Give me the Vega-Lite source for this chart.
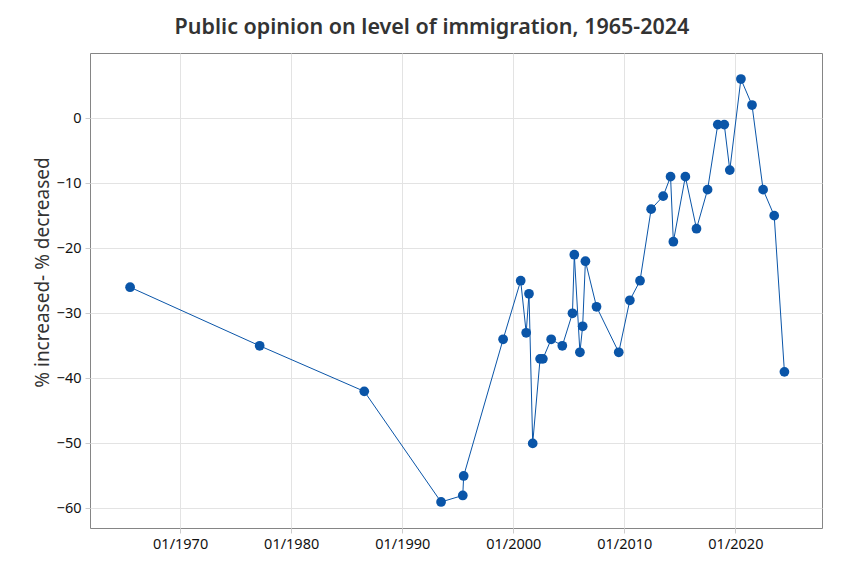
{
  "$schema": "https://vega.github.io/schema/vega-lite/v6.json",
  "width": 732,
  "height": 475,
  "autosize": "none",
  "padding": {"left": 90, "top": 53, "right": 42, "bottom": 48},
  "background": "white",
  "title": {
    "text": "Public opinion on level of immigration, 1965-2024",
    "font": "Noto Sans",
    "fontSize": 21.5,
    "fontWeight": 600,
    "color": "#333333",
    "anchor": "middle",
    "dx": -24,
    "offset": 15
  },
  "config": {
    "view": {"stroke": "#858585", "strokeWidth": 1},
    "axis": {
      "gridColor": "#e3e3e3",
      "gridWidth": 1,
      "domain": false,
      "labelFont": "Noto Sans",
      "labelFontSize": 14.5,
      "labelColor": "#111111",
      "titleFont": "Noto Sans",
      "titleFontWeight": "normal",
      "titleColor": "#333333",
      "tickColor": "#cccccc",
      "tickSize": 5
    }
  },
  "data": {
    "values": [
      {"date": "1965-07-01", "net": -26},
      {"date": "1977-03-01", "net": -35},
      {"date": "1986-08-01", "net": -42},
      {"date": "1993-07-01", "net": -59},
      {"date": "1995-06-15", "net": -58},
      {"date": "1995-07-15", "net": -55},
      {"date": "1999-02-01", "net": -34},
      {"date": "2000-09-01", "net": -25},
      {"date": "2001-03-01", "net": -33},
      {"date": "2001-06-01", "net": -27},
      {"date": "2001-10-01", "net": -50},
      {"date": "2002-06-01", "net": -37},
      {"date": "2002-09-01", "net": -37},
      {"date": "2003-06-01", "net": -34},
      {"date": "2004-06-01", "net": -35},
      {"date": "2005-05-01", "net": -30},
      {"date": "2005-07-01", "net": -21},
      {"date": "2006-01-01", "net": -36},
      {"date": "2006-04-01", "net": -32},
      {"date": "2006-07-01", "net": -22},
      {"date": "2007-07-01", "net": -29},
      {"date": "2009-07-01", "net": -36},
      {"date": "2010-07-01", "net": -28},
      {"date": "2011-06-01", "net": -25},
      {"date": "2012-06-01", "net": -14},
      {"date": "2013-07-01", "net": -12},
      {"date": "2014-03-01", "net": -9},
      {"date": "2014-06-01", "net": -19},
      {"date": "2015-07-01", "net": -9},
      {"date": "2016-07-01", "net": -17},
      {"date": "2017-07-01", "net": -11},
      {"date": "2018-06-01", "net": -1},
      {"date": "2019-01-01", "net": -1},
      {"date": "2019-07-01", "net": -8},
      {"date": "2020-07-01", "net": 6},
      {"date": "2021-07-01", "net": 2},
      {"date": "2022-07-01", "net": -11},
      {"date": "2023-07-01", "net": -15},
      {"date": "2024-06-01", "net": -39}
    ]
  },
  "encoding": {
    "x": {
      "field": "date",
      "type": "temporal",
      "scale": {"domain": ["1961-11-20", "2027-10-20"]},
      "axis": {
        "title": null,
        "format": "%m/%Y",
        "values": ["1970-01-01", "1980-01-01", "1990-01-01", "2000-01-01", "2010-01-01", "2020-01-01"],
        "labelPadding": 4
      }
    },
    "y": {
      "field": "net",
      "type": "quantitative",
      "scale": {"domain": [-63, 10], "nice": false, "zero": false},
      "axis": {
        "title": "% increased- % decreased",
        "titleFontSize": 19,
        "values": [0, -10, -20, -30, -40, -50, -60],
        "labelPadding": 4,
        "titleX": -48,
        "titleY": 219,
        "titleBaseline": "middle",
        "titleAngle": -90
      }
    }
  },
  "layer": [
    {"mark": {"type": "line", "color": "#0a55a8", "strokeWidth": 1}},
    {"mark": {"type": "point", "filled": true, "opacity": 1, "color": "#0a55a8", "size": 95}}
  ]
}
